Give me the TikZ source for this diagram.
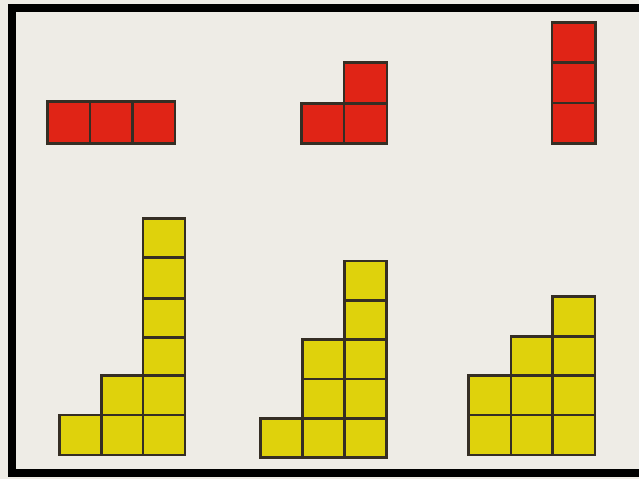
\documentclass[tikz,border=0pt]{standalone}
\definecolor{paper}{HTML}{EEECE6}
\definecolor{redfill}{HTML}{E02416}
\definecolor{yellowfill}{HTML}{DFD20C}
\definecolor{edge}{HTML}{352E24}
\begin{document}
\begin{tikzpicture}[x=1pt,y=-1pt,
  redcell/.style={fill=redfill,draw=edge,line width=2.8pt},
  yelcell/.style={fill=yellowfill,draw=edge,line width=2.8pt}]
\useasboundingbox (0,0) rectangle (639,479);
\fill[paper] (0,0) rectangle (639,479);
\fill[black] (8,4) rectangle (639,477);
\fill[paper] (16,12) rectangle (639,468.5);
% red group 1: row of three
\foreach \xa/\xb in {47.5/90, 90/132.5, 132.5/175}
  \draw[redcell] (\xa,101.7) rectangle (\xb,143.7);
% red group 2: L
\draw[redcell] (301.7,103.5) rectangle (344,143.5);
\draw[redcell] (344,103.5) rectangle (387,143.5);
\draw[redcell] (344,62.5) rectangle (387,103.5);
% red group 3: column
\foreach \ya/\yb in {22.5/62.7, 62.7/103, 103/143.3}
  \draw[redcell] (552,\ya) rectangle (595.5,\yb);
% yellow group 1
\draw[yelcell] (59.5,415) rectangle (101.5,455);
\foreach \ya/\yb in {375.7/415, 415/455}
  \draw[yelcell] (101.5,\ya) rectangle (143,\yb);
\foreach \ya/\yb in {218.5/257.3, 257.3/298.3, 298.3/337.3, 337.3/375.7, 375.7/415, 415/455}
  \draw[yelcell] (143,\ya) rectangle (185,\yb);
% yellow group 2
\draw[yelcell] (260.7,418.3) rectangle (302.3,457.3);
\foreach \ya/\yb in {339.3/379, 379/418.3, 418.3/457.3}
  \draw[yelcell] (302.3,\ya) rectangle (344.3,\yb);
\foreach \ya/\yb in {261/300.7, 300.7/339.3, 339.3/379, 379/418.3, 418.3/457.3}
  \draw[yelcell] (344.3,\ya) rectangle (386.7,\yb);
% yellow group 3
\foreach \ya/\yb in {375.7/415, 415/455}
  \draw[yelcell] (468.3,\ya) rectangle (511,\yb);
\foreach \ya/\yb in {336.7/375.7, 375.7/415, 415/455}
  \draw[yelcell] (511,\ya) rectangle (552.7,\yb);
\foreach \ya/\yb in {296.7/336.7, 336.7/375.7, 375.7/415, 415/455}
  \draw[yelcell] (552.7,\ya) rectangle (595,\yb);
\end{tikzpicture}
\end{document}
